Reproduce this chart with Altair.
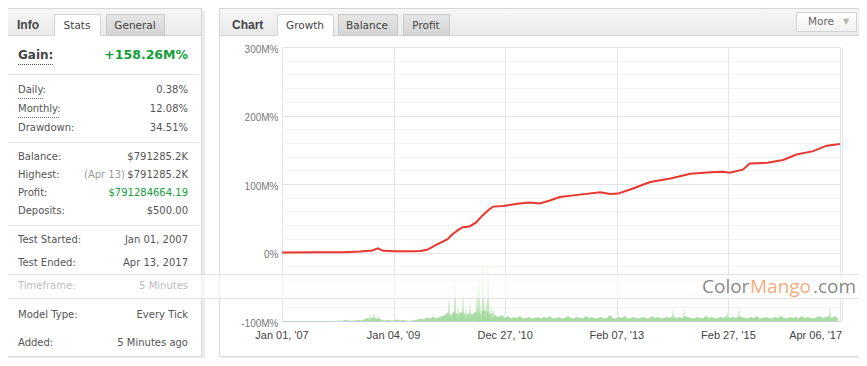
import altair as alt
import pandas as pd
import numpy as np

# ---------------- data ----------------
x_tick_labels = ["Jan 01, '07", "Jan 04, '09", "Dec 27, '10", "Feb 07, '13", "Feb 27, '15", "Apr 06, '17"]
x_tick_pos = [0, 1, 2, 3, 4, 5]

# growth curve (M%), x in axis-period units (0 = Jan 01 '07 ... 5 = Apr 06 '17)
growth_pos = [0.00, 0.34, 0.55, 0.70, 0.81, 0.86, 0.905, 1.01, 1.15, 1.24,
              1.30, 1.39, 1.48, 1.53, 1.58, 1.62, 1.68, 1.74, 1.79, 1.85,
              1.89, 1.98, 2.11, 2.22, 2.31, 2.40, 2.49, 2.67, 2.85, 2.94,
              3.01, 3.12, 3.30, 3.48, 3.66, 3.84, 3.95, 4.01, 4.13, 4.19,
              4.35, 4.49, 4.61, 4.76, 4.88, 5.00]
growth_val = [0, 0.2, 0.5, 1.5, 3, 6, 2.5, 2, 2, 2.2,
              4, 12, 19, 27, 33, 37, 38, 44, 53, 62,
              67, 68, 71, 73, 71.5, 76, 81, 84.5, 88, 85.5,
              86, 92, 103, 108, 115, 117, 118, 116.5, 121, 130,
              131, 135, 143, 148, 156, 158.26]

# activity (green; its own units, 0..274 spans the plot height)
activity = [0.5, 0.3, 0.5, 1, 0.5, 0.3, 0.5, 1, 0.5, 1.5,
            3, 2, 4, 2.5, 3,
            1, 0.5, 1, 0.5, 0.5, 1.5, 0.5, 1, 0.5, 0.3, 0.5, 1, 1.5,
            2.5, 1.5, 3.5, 2.5, 4.5, 2.5, 3.5, 5,
            6, 9, 5, 10, 7, 8, 9, 6, 8, 6, 9, 10, 7, 11, 10, 7, 8, 5,
            4, 6, 3, 5, 2.5, 4, 3, 5, 2.5, 3, 4, 2.5, 3, 4,
            2.5, 4, 3, 5, 2.5, 3, 4, 2.5, 3, 5, 3, 2.5, 4, 3, 2.5, 5, 3, 4, 2.5, 3, 4, 2.5,
            3, 6, 3, 2.5, 4, 3, 5, 2.5, 3, 4, 2.5, 3, 4, 3, 2.5, 5, 3, 4, 2.5, 3, 4, 3,
            5, 3, 4, 3, 5, 4,
            3, 2.5, 4, 3, 2.5, 5, 3, 4, 2.5, 3, 4, 3, 5,
            3, 4, 3, 5, 4,
            3, 2.5, 4, 3, 5, 2.5, 3, 4, 3, 2.5, 4, 3, 5, 3, 2.5, 4, 3, 4, 2.5, 5, 3, 4, 3, 2.5, 4, 5, 3,
            4, 5, 3, 5, 3]
activity_pos = np.linspace(0.493, 4.98, len(activity))

# isolated activity spikes
spike_pos = [0.789, 0.824, 0.860, 1.496, 1.550, 1.577, 1.622, 1.649, 1.685, 1.747, 1.765,
             1.783, 1.801, 1.828, 1.846, 1.873, 1.891, 3.504, 3.602, 3.987, 4.095, 4.910]
spike_h = [6, 8, 5, 22, 38, 15, 26, 12, 18, 29, 41,
           16, 53, 20, 51, 14, 11, 11, 11, 9, 12, 13]

# info panel
stat_labels = ["Daily:", "Monthly:", "Drawdown:", "Balance:", "Highest:", "Profit:", "Deposits:",
               "Test Started:", "Test Ended:", "Timeframe:", "Model Type:", "Added:"]
stat_values = ["0.38%", "12.08%", "34.51%", "$791285.2K", "$791285.2K", "$791284664.19", "$500.00",
               "Jan 01, 2007", "Apr 13, 2017", "5 Minutes", "Every Tick", "5 Minutes ago"]
gain_text = "+158.26M%"

# ---------------- layout ----------------
OX, OY = 282, 47          # plot origin on the page
PW, PH = 558, 274
FONT_P = "DejaVu Sans"
FONT_C = "Liberation Sans"


def rx(v):
    return v - OX


def ry(v):
    return v - OY


def rects(rows):
    df = pd.DataFrame([dict(x=rx(a), y=ry(b), x2=rx(c), y2=ry(d), f=f, s=s) for a, b, c, d, f, s in rows])
    return alt.Chart(df).mark_rect(strokeWidth=1).encode(
        x=alt.X("x:Q", scale=None, axis=None), x2="x2:Q",
        y=alt.Y("y:Q", scale=None, axis=None), y2="y2:Q",
        fill=alt.Fill("f:N", scale=None), stroke=alt.Stroke("s:N", scale=None))


def grad_rect(x1, y1, x2, y2, top, bottom, stroke):
    return alt.Chart(pd.DataFrame({"a": [0]})).mark_rect(
        fill=alt.Gradient(gradient="linear",
                          stops=[alt.GradientStop(color=top, offset=0), alt.GradientStop(color=bottom, offset=1)],
                          x1=0, x2=0, y1=0, y2=1),
        stroke=stroke, strokeWidth=1).encode(
        x=alt.value(rx(x1)), x2=alt.value(rx(x2)), y=alt.value(ry(y1)), y2=alt.value(ry(y2)))


def rules(rows, **kw):
    df = pd.DataFrame([dict(x=rx(a), y=ry(b), x2=rx(c), y2=ry(d), c=col) for a, b, c, d, col in rows])
    return alt.Chart(df).mark_rule(strokeWidth=1, **kw).encode(
        x=alt.X("x:Q", scale=None, axis=None), x2="x2:Q",
        y=alt.Y("y:Q", scale=None, axis=None), y2="y2:Q",
        color=alt.Color("c:N", scale=None))


def texts(rows, size, weight="normal", align="left", font=FONT_P):
    df = pd.DataFrame([dict(x=rx(a), y=ry(b), t=t, c=col) for a, b, t, col in rows])
    return alt.Chart(df).mark_text(align=align, baseline="middle", fontSize=size,
                                   fontWeight=weight, font=font).encode(
        x=alt.X("x:Q", scale=None, axis=None), y=alt.Y("y:Q", scale=None, axis=None),
        text="t:N", color=alt.Color("c:N", scale=None))


layers = []
# shadows
layers.append(rects([
    (202, 11, 205, 359, "#ececec", "transparent"),
    (8, 357, 205, 359, "#ececec", "transparent"),
    (861, 11, 864, 359, "#ececec", "transparent"),
    (222, 357, 864, 359, "#ececec", "transparent"),
]))
# panels
layers.append(rects([
    (5.5, 8.5, 201.5, 356.5, "#ffffff", "#d9d9d9"),
    (219.5, 8.5, 860.5, 356.5, "transparent", "#d9d9d9"),
]))
# header bars
layers.append(grad_rect(5.5, 8.5, 201.5, 35.5, "#f7f7f7", "#e9e9e9", "#d6d6d6"))
layers.append(grad_rect(219.5, 8.5, 860.5, 35.5, "#f7f7f7", "#e9e9e9", "#d6d6d6"))
# inactive tabs
for (a, b) in [(106.5, 164.5), (338.5, 397.5), (403.5, 449.5)]:
    layers.append(grad_rect(a, 14.5, b, 35.5, "#e6e6e6", "#d3d3d3", "#c9c9c9"))
# active tabs
layers.append(rects([
    (54.5, 14.5, 100.5, 35.5, "#ffffff", "#d4d4d4"),
    (277.5, 14.5, 333.5, 35.5, "#ffffff", "#d4d4d4"),
    (55, 34, 100, 37, "#ffffff", "transparent"),
    (278, 34, 333, 37, "#ffffff", "transparent"),
]))
# More button
layers.append(grad_rect(796.5, 12.5, 856.5, 31.5, "#ffffff", "#f1f1f1", "#d5d5d5"))

# header texts
layers.append(texts([(17, 25, "Info", "#444444"), (232, 25, "Chart", "#444444")], 12, "bold", font=FONT_C))
layers.append(texts([(77, 26, "Stats", "#444444"), (135, 26, "General", "#444444"),
                     (305, 26, "Growth", "#444444"), (367, 26, "Balance", "#444444"),
                     (426, 26, "Profit", "#444444")], 10.5, align="center"))
layers.append(texts([(808, 22, "More", "#666666")], 10.5))
layers.append(texts([(846, 22, "\u25bc", "#b5b5b5")], 8, align="center"))

# separators & dotted underlines
layers.append(rules([(8, 74.5, 199, 74.5, "#e3e3e3"), (8, 142.5, 199, 142.5, "#e3e3e3"),
                     (8, 225.5, 199, 225.5, "#e3e3e3")]))
layers.append(rules([(18, 64.5, 53, 64.5, "#555555"), (18, 98.5, 44, 98.5, "#777777"),
                     (18, 117.5, 60, 117.5, "#777777")], strokeDash=[1, 1]))

# info texts
row_y = [90, 109, 128, 157, 175, 193, 211, 240, 263, 286, 315, 343]
layers.append(texts([(18, 55, "Gain:", "#444444")], 12, "bold"))
layers.append(texts([(188, 55, gain_text, "#13a03a")], 12.5, "bold", align="right"))
layers.append(texts([(18, y, t, "#555555") for y, t in zip(row_y, stat_labels)], 10))
val_col = ["#555555"] * len(stat_values)
val_col[5] = "#13a03a"
layers.append(texts([(188, y, t, c) for y, t, c in zip(row_y, stat_values, val_col)], 10, align="right"))
layers.append(texts([(125, 175, "(Apr 13)", "#9a9a9a")], 10, align="right"))

# ---------------- chart ----------------
x_scale = alt.Scale(domain=[0, 5], nice=False, zero=False, padding=0)
y_scale = alt.Scale(domain=[-100, 300], nice=False, zero=False, padding=0)
x_axis = alt.Axis(values=x_tick_pos, labels=False, grid=True, gridColor="#e4e4e4", ticks=False,
                  domain=True, domainColor="#c4d2e0", title=None)
y_axis = alt.Axis(values=list(range(-100, 301, 20)), grid=True,
                  labelExpr="datum.value % 100 == 0 ? (datum.value == 0 ? '0%' : datum.value + 'M%') : ''",
                  gridColor={"condition": {"test": "datum.value % 100 == 0", "value": "#e4e4e4"},
                             "value": "#f3f3f3"},
                  ticks=False, domain=False, labelPadding=4, labelFont=FONT_C, labelFontSize=10,
                  labelColor="#777777", labelOverlap=False, labelOffset=2, title=None)

green_grad = alt.Gradient(gradient="linear",
                          stops=[alt.GradientStop(color="#9cd795", offset=0),
                                 alt.GradientStop(color="#eef8ec", offset=1)],
                          x1=1, x2=1, y1=1, y2=0)

green = alt.Chart(pd.DataFrame({"x": activity_pos, "h": activity})).transform_calculate(
    yv=f"-100 + datum.h * 400 / {PH}", base="-100").mark_area(
    interpolate="linear", color="#a8dca2").encode(
    x=alt.X("x:Q", scale=x_scale, axis=x_axis),
    y=alt.Y("yv:Q", scale=y_scale, axis=y_axis),
    y2="base:Q")

spikes = alt.Chart(pd.DataFrame({"x": spike_pos, "h": spike_h})).transform_calculate(
    yv=f"-100 + datum.h * 400 / {PH}", base="-100").mark_bar(
    size=1.6, color=green_grad).encode(
    x=alt.X("x:Q", scale=x_scale, axis=x_axis),
    y=alt.Y("yv:Q", scale=y_scale, axis=y_axis),
    y2="base:Q")

red = alt.Chart(pd.DataFrame({"x": growth_pos, "v": growth_val})).mark_line(
    color="#e8372e", strokeWidth=2).encode(
    x=alt.X("x:Q", scale=x_scale, axis=x_axis),
    y=alt.Y("v:Q", scale=y_scale, axis=y_axis))

lab_df = pd.DataFrame({"x": x_tick_pos, "label": x_tick_labels})
xlab_c = alt.Chart(lab_df).transform_filter("datum.x < 5").mark_text(
    align="center", baseline="middle", font=FONT_C, fontSize=11, color="#444444").encode(
    x=alt.X("x:Q", scale=x_scale, axis=x_axis), y=alt.value(ry(336)), text="label:N")
xlab_r = alt.Chart(lab_df).transform_filter("datum.x == 5").mark_text(
    align="right", baseline="middle", font=FONT_C, fontSize=11, color="#444444", dx=2).encode(
    x=alt.X("x:Q", scale=x_scale, axis=x_axis), y=alt.value(ry(336)), text="label:N")

layers += [green, spikes, red, xlab_c, xlab_r]
layers.append(rules([(842.5, 47, 842.5, 321, "#e6e6e6")]))

# watermark band
layers.append(alt.Chart(pd.DataFrame({"a": [0]})).mark_rect(fill="#ffffff", opacity=0.6).encode(
    x=alt.value(rx(0)), x2=alt.value(rx(867)), y=alt.value(ry(274)), y2=alt.value(ry(299))))
layers.append(rules([(0, 274.5, 867, 274.5, "#e2e2e2"), (0, 298.5, 867, 298.5, "#e2e2e2")]))
layers.append(texts([(702, 287, "Color", "#8a8a8a"), (750, 287, "Mango", "#f7ab7e"),
                     (813, 287, ".com", "#8a8a8a")], 19, font="Open Sans"))

chart = alt.layer(*layers).properties(
    width=PW, height=PH,
    padding={"left": OX - 8, "top": OY - 8, "right": 19, "bottom": 37},
    autosize=alt.AutoSizeParams(type="none"),
    background="#ffffff",
).configure_view(stroke=None)

chart.save("out.html", embed_options={"renderer": "svg", "actions": False})
